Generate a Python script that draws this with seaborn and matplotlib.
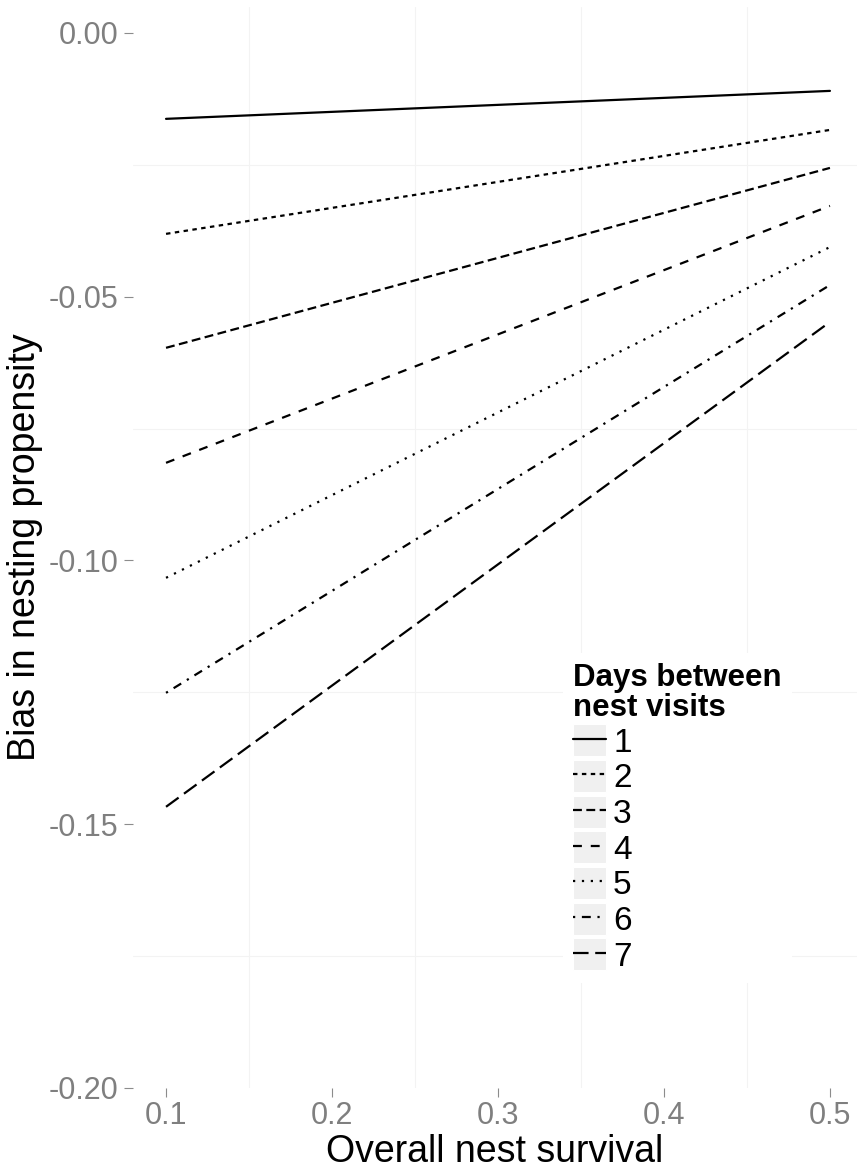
import matplotlib
matplotlib.use("Agg")
import matplotlib.pyplot as plt
from matplotlib.lines import Line2D
from matplotlib.legend_handler import HandlerLine2D
from matplotlib.patches import Rectangle
from matplotlib.ticker import FixedLocator, FormatStrFormatter
import pandas as pd
import seaborn as sns

# Overall nest survival at the two ends of each curve
survival = [0.1, 0.5]

# Bias in nesting propensity for each visit interval (days)
days = ["1", "2", "3", "4", "5", "6", "7"]
bias_at_low = [-0.0163, -0.0381, -0.0597, -0.0815, -0.1033, -0.1251, -0.1467]
bias_at_high = [-0.0110, -0.0184, -0.0256, -0.0328, -0.0406, -0.0478, -0.0548]

x_ticks = [0.1, 0.2, 0.3, 0.4, 0.5]
y_ticks = [0.00, -0.05, -0.10, -0.15, -0.20]

rows = []
for d, lo, hi in zip(days, bias_at_low, bias_at_high):
    rows.append({"survival": survival[0], "bias": lo, "days": d})
    rows.append({"survival": survival[1], "bias": hi, "days": d})
df = pd.DataFrame(rows)

sns.set_theme(style="white")
plt.rcParams["font.family"] = ["Liberation Sans", "DejaVu Sans"]
plt.rcParams["axes.unicode_minus"] = False
plt.rcParams["text.color"] = "black"
plt.rcParams["axes.labelcolor"] = "black"

fig = plt.figure(figsize=(8.57, 11.70), dpi=100)
ax = fig.add_axes([133 / 857, 82 / 1170, 724 / 857, 1081 / 1170])

# ggplot-style linetypes: solid, 22, 42, 44, 13, 1343, 73
dash_specs = ["", (2, 2), (4, 2), (4, 4), (1, 3), (1, 3, 4, 3), (7, 3)]

sns.lineplot(
    data=df, x="survival", y="bias", style="days", style_order=days,
    dashes=dict(zip(days, dash_specs)), color="black", linewidth=1.6,
    ax=ax, legend=True,
)

ax.set_xlim(0.0801, 0.5163)
ax.set_ylim(-0.2, 0.0049)

ax.xaxis.set_major_locator(FixedLocator(x_ticks))
ax.yaxis.set_major_locator(FixedLocator(y_ticks))
ax.xaxis.set_major_formatter(FormatStrFormatter("%.1f"))
ax.yaxis.set_major_formatter(FormatStrFormatter("%.2f"))
ax.xaxis.set_minor_locator(FixedLocator([0.15, 0.25, 0.35, 0.45]))
ax.yaxis.set_minor_locator(FixedLocator([-0.025, -0.075, -0.125, -0.175]))

ax.grid(False, which="major")
ax.grid(True, which="minor", color="#f3f3f3", linewidth=0.8)
for s in ax.spines.values():
    s.set_visible(False)

ax.tick_params(which="major", axis="both", length=6.5, width=0.8,
               color="#8c8c8c", labelcolor="#7f7f7f", labelsize=22,
               bottom=True, left=True, direction="out")
ax.tick_params(axis="y", pad=4)
ax.tick_params(axis="x", pad=3)
ax.tick_params(which="minor", length=0)

ax.set_xlabel("Overall nest survival", fontsize=27, color="black", labelpad=2)
ax.set_ylabel("Bias in nesting propensity", fontsize=27, color="black", labelpad=4)

LEG_SIZE = 24
LEG_SPACING = 0.07


class KeyWithBackground(HandlerLine2D):
    """Legend key drawn on a light grey tile, as in ggplot2."""

    def create_artists(self, legend, orig_handle, xdescent, ydescent,
                       width, height, fontsize, trans):
        extra = LEG_SPACING * fontsize
        tile = Rectangle((-xdescent, -ydescent - extra / 2), width, height + extra,
                         facecolor="#f0f0f0", edgecolor="white",
                         linewidth=0.8, transform=trans)
        arts = super().create_artists(legend, orig_handle, xdescent, ydescent,
                                      width, height, fontsize, trans)
        return [tile] + arts


handles, labels = ax.get_legend_handles_labels()
leg = ax.legend(
    handles, labels,
    title="Days between\nnest visits",
    loc="upper left", bbox_to_anchor=(0.594, 0.4024),
    fontsize=LEG_SIZE, labelcolor="black",
    title_fontproperties={"weight": "bold", "size": 22.5},
    handlelength=1.0, handleheight=1.0, handletextpad=0.2,
    labelspacing=LEG_SPACING, borderpad=0.3, borderaxespad=0,
    frameon=True, facecolor="white", edgecolor="none", fancybox=False,
    alignment="left",
    handler_map={Line2D: KeyWithBackground()},
)
leg.get_frame().set_alpha(1.0)
leg.get_title().set_color("black")
leg.get_title().set_linespacing(1.0)
for line in leg.get_lines():
    line.set_linewidth(1.6)

fig.savefig("out.png", dpi=100)
